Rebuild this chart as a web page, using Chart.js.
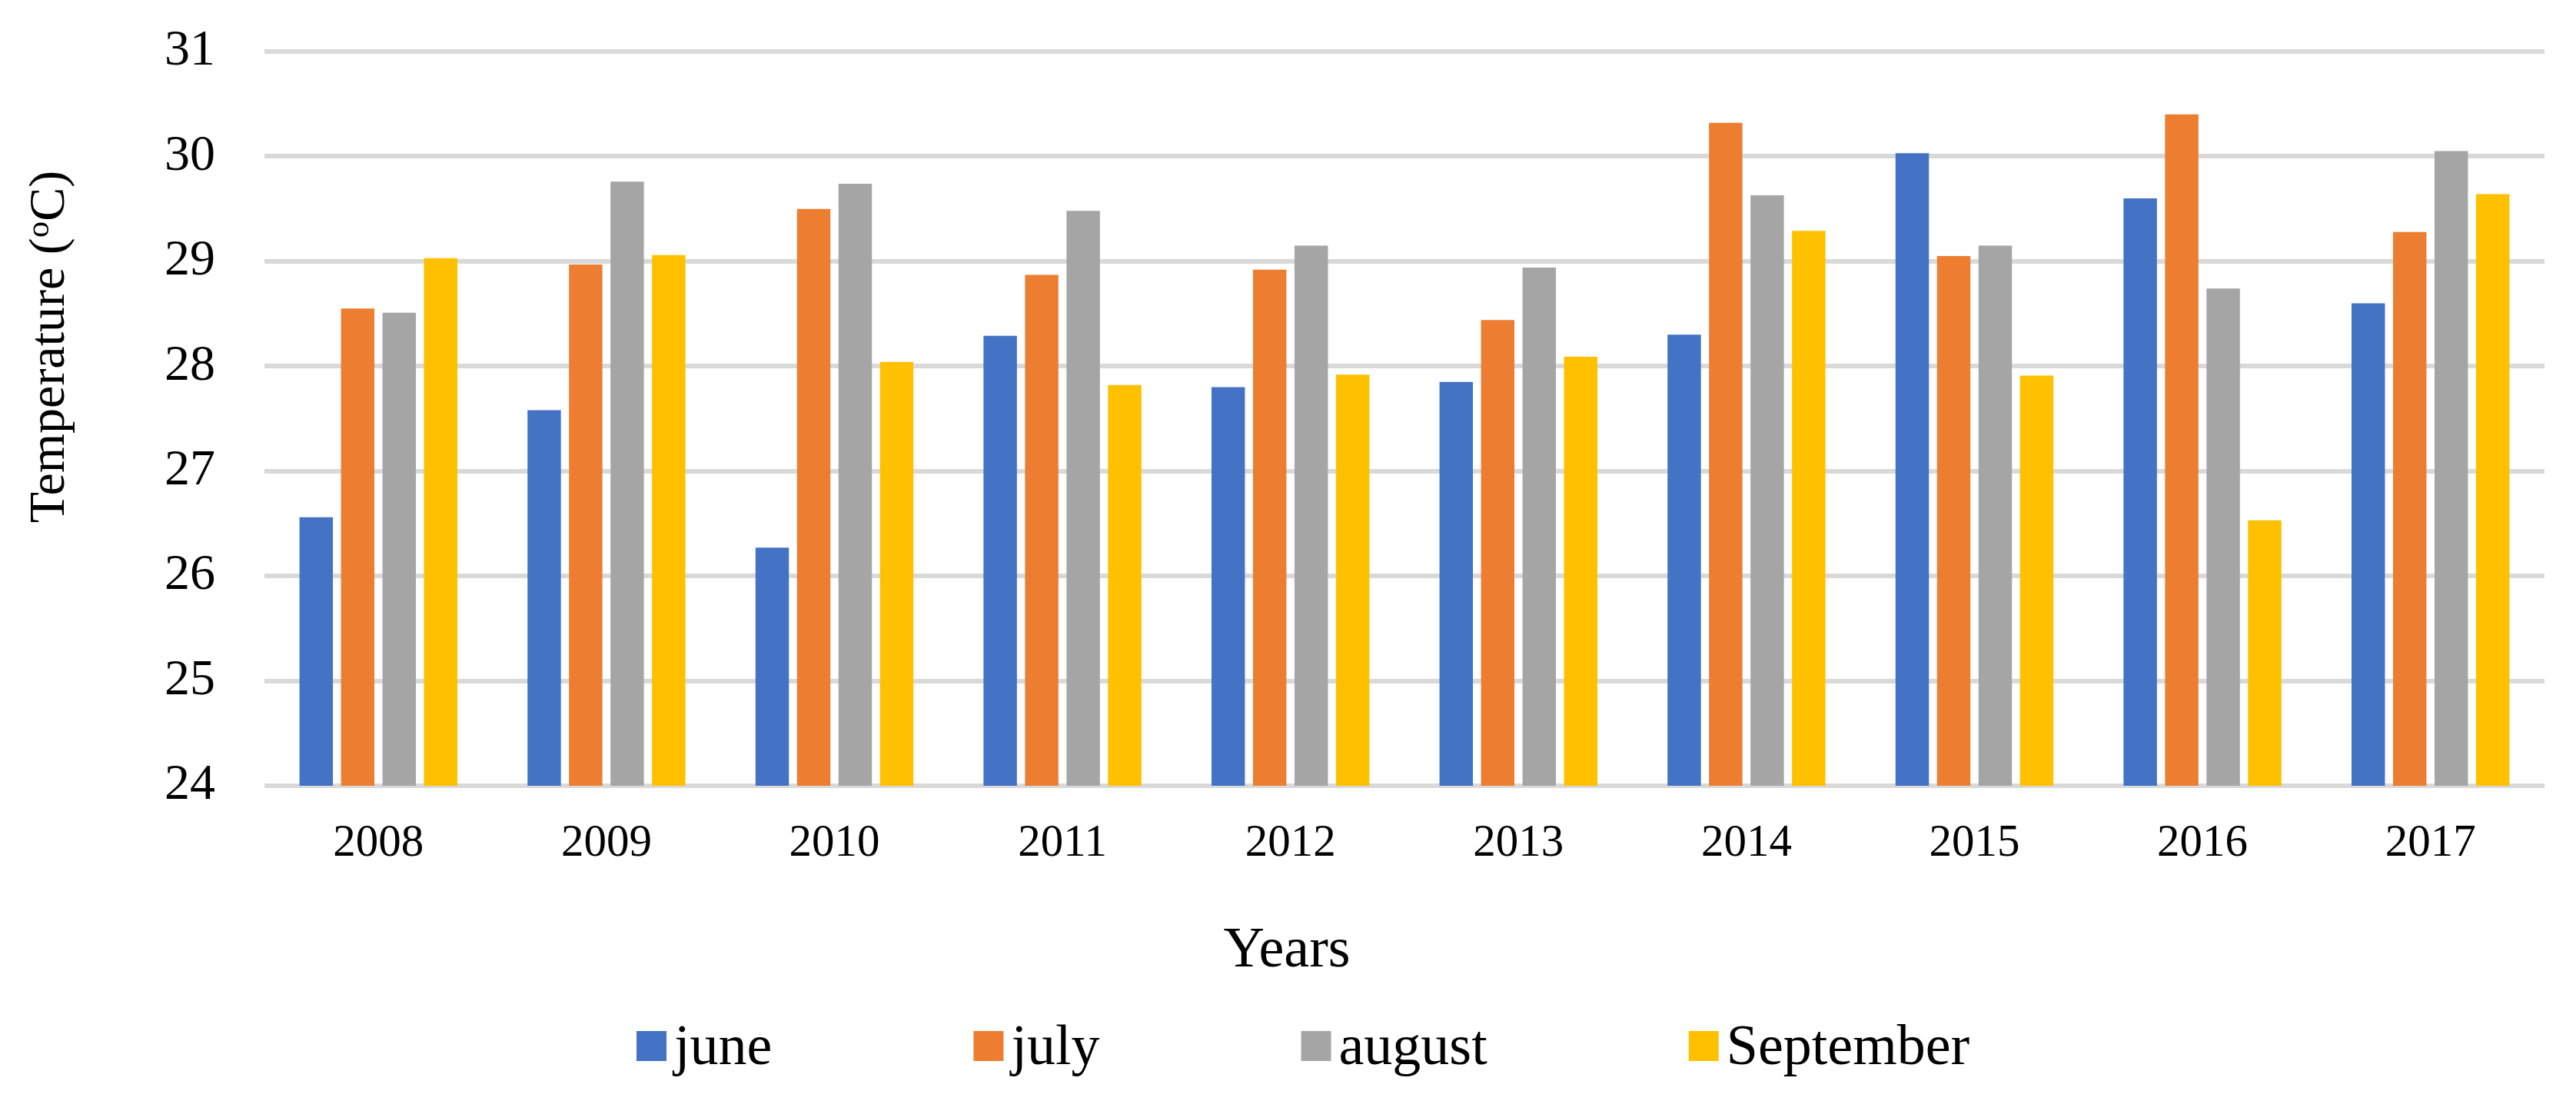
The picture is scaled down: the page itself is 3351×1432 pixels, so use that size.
<!DOCTYPE html>
<html>
<head>
<meta charset="utf-8">
<script src="https://cdn.jsdelivr.net/npm/chart.js@4.4.0/dist/chart.umd.min.js"></script>
<style>
  html, body { margin: 0; padding: 0; background: #fff; }
  #wrap { width: 3351px; height: 1432px; }
</style>
</head>
<body>
<div id="wrap"><canvas id="myChart"></canvas></div>
<script>
// temperature per month

var years = ['2008', '2009', '2010', '2011', '2012', '2013', '2014', '2015', '2016', '2017'];
var june = [26.56, 27.58, 26.27, 28.29, 27.80, 27.85, 28.30, 30.03, 29.60, 28.60];
var july = [28.55, 28.97, 29.50, 28.87, 28.92, 28.44, 30.32, 29.05, 30.40, 29.28];
var august = [28.51, 29.76, 29.74, 29.48, 29.15, 28.94, 29.63, 29.15, 28.74, 30.05];
var september = [29.03, 29.06, 28.04, 27.82, 27.92, 28.09, 29.29, 27.91, 26.53, 29.64];
var yMin = 24;
var yMax = 31;

var serif = '"Liberation Serif", "Times New Roman", serif';

// axis titles and legend drawn Excel-style
var excelText = {
  id: 'excelText',
  afterDraw: function(chart) {
    var ctx = chart.ctx;
    ctx.save();
    ctx.fillStyle = '#000';
    ctx.textBaseline = 'alphabetic';
    ctx.textAlign = 'left';

    // y title with superscript o
    var big = '66px ' + serif, small = '43px ' + serif;
    ctx.font = big;
    var w1 = ctx.measureText('Temperature (').width;
    var w3 = ctx.measureText('C)').width;
    ctx.font = small;
    var w2 = ctx.measureText('o').width;
    var total = w1 + w2 + w3;
    ctx.save();
    ctx.translate(83, 451);
    ctx.rotate(-Math.PI / 2);
    ctx.font = big;
    ctx.fillText('Temperature (', -total / 2, 0);
    ctx.font = small;
    ctx.fillText('o', -total / 2 + w1, -20);
    ctx.font = big;
    ctx.fillText('C)', -total / 2 + w1 + w2, 0);
    ctx.restore();

    // x title
    ctx.font = '74px ' + serif;
    ctx.textAlign = 'center';
    ctx.fillText('Years', 1674, 1257);

    // legend
    ctx.textAlign = 'left';
    var x = 828;
    chart.data.datasets.forEach(function(ds) {
      ctx.fillStyle = ds.backgroundColor;
      ctx.fillRect(x, 1341, 39, 39);
      ctx.fillStyle = '#000';
      ctx.fillText(ds.label, x + 49, 1384);
      x += 49 + ctx.measureText(ds.label).width + 262;
    });
    ctx.restore();
  }
};

var ctx = document.getElementById('myChart');

var myChart = new Chart(ctx, {
  type: 'bar',
  data: {
    labels: years,
    datasets: [
      { label: 'june', data: june, backgroundColor: '#4472C4' },
      { label: 'july', data: july, backgroundColor: '#ED7D31' },
      { label: 'august', data: august, backgroundColor: '#A5A5A5' },
      { label: 'September', data: september, backgroundColor: '#FFC000' }
    ]
  },
  options: {
    responsive: true,
    maintainAspectRatio: false,
    devicePixelRatio: 1,
    animation: false,
    categoryPercentage: 0.728,
    barPercentage: 0.805,
    layout: {
      padding: { left: 0, right: 41, top: 67, bottom: 0 }
    },
    plugins: {
      legend: { display: false },
      tooltip: { enabled: false }
    },
    scales: {
      x: {
        grid: { display: false },
        border: { display: false },
        ticks: {
          color: '#000',
          padding: 32,
          font: { family: serif, size: 59 }
        },
        afterFit: function(scale) { scale.height = 410; }
      },
      y: {
        min: yMin,
        max: yMax,
        grid: { color: '#d9d9d9', lineWidth: 6, drawTicks: false },
        border: { display: false },
        ticks: {
          stepSize: 1,
          color: '#000',
          padding: 64,
          font: { family: serif, size: 66 }
        },
        afterFit: function(scale) {
          scale.width = 344;
          scale.paddingTop = 0;
          scale.paddingBottom = 0;
        }
      }
    }
  },
  plugins: [excelText]
});
</script>
</body>
</html>
